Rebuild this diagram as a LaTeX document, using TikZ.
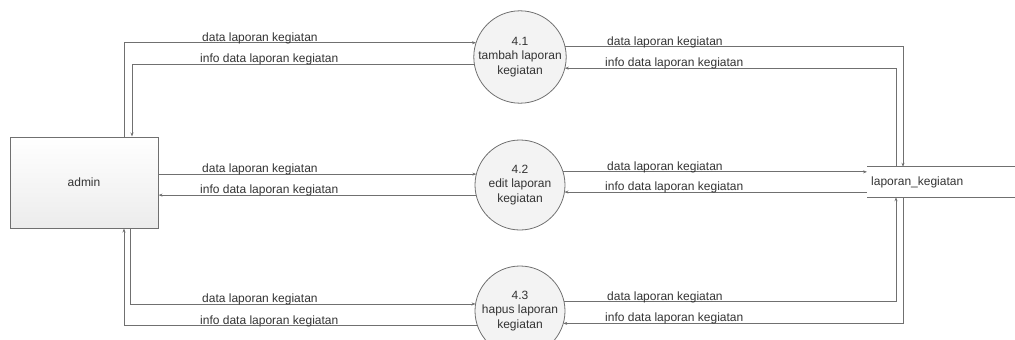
\documentclass[tikz,border=0pt]{standalone}
\usepackage{fontspec}
\setmainfont{Liberation Sans}
\usepackage{tikz}
\usetikzlibrary{positioning}
\usetikzlibrary{calc}
\usetikzlibrary{arrows.meta}
\usetikzlibrary{shapes}
\usetikzlibrary{shapes.geometric}
\definecolor{linegray}{RGB}{112,112,112}
\definecolor{textgray}{RGB}{51,51,51}
\definecolor{procfill}{RGB}{243,243,243}
\definecolor{boxbottom}{RGB}{236,236,236}

\begin{document}
\begin{tikzpicture}[
        x=1pt, y=-1pt,
        font=\fontsize{12}{14.5}\selectfont, text=textgray,
        entity/.style={draw=linegray, line width=1pt, top color=white, bottom color=boxbottom,
                    minimum width=148pt, minimum height=91pt, inner sep=0pt},
        proc/.style={circle, draw=linegray, fill=procfill, line width=0.8pt,
                    minimum size=90pt, inner sep=0pt, outer sep=0pt, align=center},
        store/.style={text width=142pt, inner xsep=4pt, inner ysep=0pt,
                    minimum height=30pt, align=left},
        flow/.style={-{Stealth[length=4pt,width=3pt]}, line width=0.8pt, draw=linegray},
        lbl/.style={anchor=base west, inner sep=0pt}
    ]
        \useasboundingbox (0,0) rectangle (1015,340);
        \clip (0,0) rectangle (1015,340);

        \node[entity] (admin) at (84,182.5) {admin};
        \node[proc] (p1) at (520,57) {4.1\\tambah laporan\\kegiatan};
        \node[proc] (p2) at (520,185) {4.2\\edit laporan\\kegiatan};
        \node[proc] (p3) at (520,311) {4.3\\hapus laporan\\kegiatan};
        \node[store, anchor=west] (lk) at (867,182) {laporan\_kegiatan};
        \draw[linegray, line width=0.8pt] (lk.north west) -- (lk.north east);
        \draw[linegray, line width=0.8pt] (lk.south west) -- (lk.south east);

        % admin <-> processes
        \draw[flow] ([xshift=40pt]admin.north) |- (p1.162);
        \draw[flow] (p1.189) -| ([xshift=48pt]admin.north);
        \draw[flow] (admin.east |- p2.166) -- (p2.166);
        \draw[flow] (p2.193) -- (admin.east |- p2.193);
        \draw[flow] ([xshift=46pt]admin.south) |- (p3.171);
        \draw[flow] (p3.199) -| ([xshift=40pt]admin.south);

        % processes <-> laporan_kegiatan
        \draw[flow] (p1.13) -| ([xshift=36pt]lk.north west);
        \draw[flow] ([xshift=29pt]lk.north west) |- (p1.-14);
        \draw[flow] (p2.17) -- (lk.west |- p2.17);
        \draw[flow] (lk.west |- p2.351) -- (p2.351);
        \draw[flow] (p3.12) -| ([xshift=29pt]lk.south west);
        \draw[flow] ([xshift=36pt]lk.south west) |- (p3.344);

        \node[lbl] (l1a) at (202,41) {data laporan kegiatan};
        \node[lbl] (l1b) at (200,62) {info data laporan kegiatan};
        \node[lbl] (l2a) at (202,172) {data laporan kegiatan};
        \node[lbl] (l2b) at (200,193) {info data laporan kegiatan};
        \node[lbl] (l3a) at (202,302) {data laporan kegiatan};
        \node[lbl] (l3b) at (200,324) {info data laporan kegiatan};
        \node[lbl] (r1a) at (607,45) {data laporan kegiatan};
        \node[lbl] (r1b) at (605,66) {info data laporan kegiatan};
        \node[lbl] (r2a) at (607,170) {data laporan kegiatan};
        \node[lbl] (r2b) at (605,190) {info data laporan kegiatan};
        \node[lbl] (r3a) at (607,300) {data laporan kegiatan};
        \node[lbl] (r3b) at (605,321) {info data laporan kegiatan};
    \end{tikzpicture}
\end{document}
